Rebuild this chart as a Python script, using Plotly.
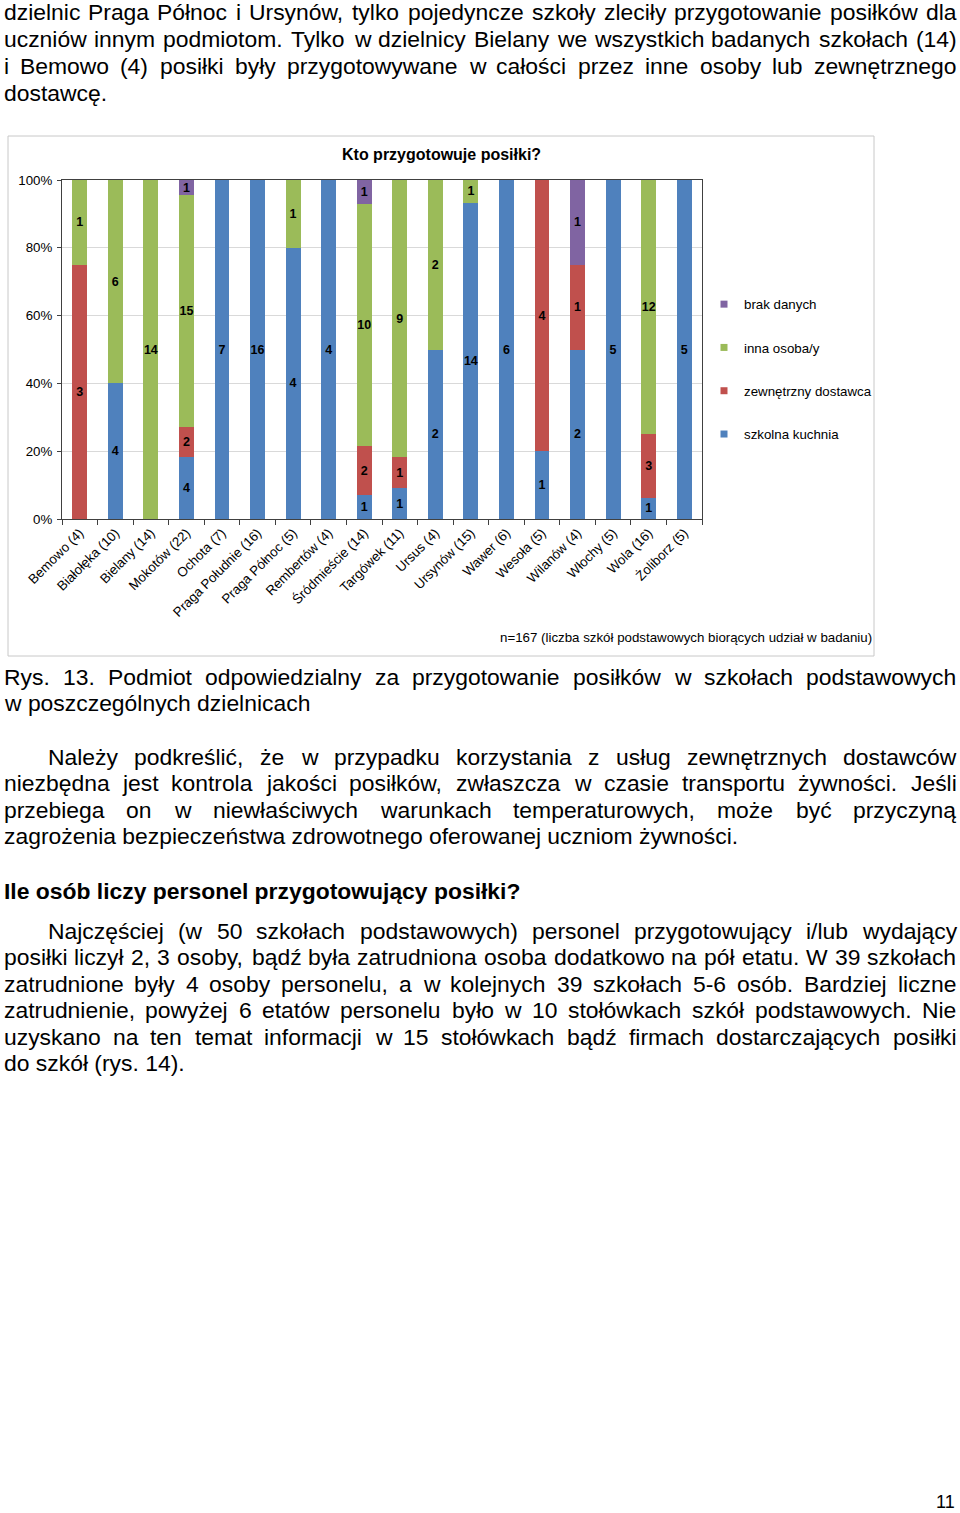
import plotly.graph_objects as go

# ---------------- data ----------------
districts = ["Bemowo (4)", "Białołęka (10)", "Bielany (14)", "Mokotów (22)", "Ochota (7)",
             "Praga Południe (16)", "Praga Północ (5)", "Rembertów (4)", "Śródmieście (14)",
             "Targówek (11)", "Ursus (4)", "Ursynów (15)", "Wawer (6)", "Wesoła (5)",
             "Wilanów (4)", "Włochy (5)", "Wola (16)", "Żoliborz (5)"]
szkolna_kuchnia = [0, 4, 0, 4, 7, 16, 4, 4, 1, 1, 2, 14, 6, 1, 2, 5, 1, 5]
zewnetrzny_dostawca = [3, 0, 0, 2, 0, 0, 0, 0, 2, 1, 0, 0, 0, 4, 1, 0, 3, 0]
inna_osoba = [1, 6, 14, 15, 0, 0, 1, 0, 10, 9, 2, 1, 0, 0, 0, 0, 12, 0]
brak_danych = [0, 0, 0, 1, 0, 0, 0, 0, 1, 0, 0, 0, 0, 0, 1, 0, 0, 0]

series_names = ["szkolna kuchnia", "zewnętrzny dostawca", "inna osoba/y", "brak danych"]
series_values = [szkolna_kuchnia, zewnetrzny_dostawca, inna_osoba, brak_danych]
series_colors = ["#4F81BD", "#C0504D", "#9BBB59", "#8064A2"]

chart_title = "Kto przygotowuje posiłki?"
chart_note = "n=167 (liczba szkół podstawowych biorących udział w badaniu)"

W, H = 960, 1513
FONT = "Liberation Sans, Arial, sans-serif"
CH = 13.3  # chart font size
TXT = 22.9  # page text font size


def px(x):
    return x / W


def py(y):
    return 1 - y / H


fig = go.Figure()

for name, vals, col in zip(series_names, series_values, series_colors):
    fig.add_trace(go.Bar(
        x=districts, y=vals, name=name, marker=dict(color=col, line=dict(width=0)),
        text=[str(v) if v else "" for v in vals],
        textposition="inside", insidetextanchor="middle", textangle=0,
        constraintext="none",
        textfont=dict(family=FONT, size=12.5, color="black", weight="bold"),
        showlegend=False, hoverinfo="skip",
    ))

# legend entries with small square swatches (top-to-bottom: brak danych ... szkolna kuchnia)
for name, col in reversed(list(zip(series_names, series_colors))):
    fig.add_trace(go.Scatter(
        x=[None], y=[None], mode="markers", name=name, legendgroup=name,
        marker=dict(symbol="square", size=7, color=col), showlegend=True,
    ))

annotations = []


def add_text(x, y, text, size, bold=False, anchor="left", color="black"):
    annotations.append(dict(
        x=px(x), y=py(y), xref="paper", yref="paper", text=text, showarrow=False,
        xanchor=anchor, yanchor="middle", borderpad=0, borderwidth=0,
        font=dict(family=FONT, size=size, color=color, weight="bold" if bold else "normal"),
    ))


# chart title and note
add_text(441, 154, chart_title, 16, bold=True, anchor="center")
add_text(872, 637, chart_note, CH, anchor="right")

# ---------------- page text (justified) ----------------
CW = {" ": 278, "!": 278, "(": 333, ")": 333, ",": 278, "-": 333, ".": 278, "/": 278,
      ":": 278, "=": 584, "?": 556, "%": 889}
for d in "0123456789":
    CW[d] = 556
CW.update(dict(A=667, B=667, C=722, D=722, E=667, F=611, G=778, H=722, I=278, J=500, K=667,
               L=556, M=833, N=722, O=778, P=667, Q=778, R=722, S=667, T=611, U=722, V=667,
               W=944, X=667, Y=667, Z=611))
CW.update(dict(a=556, b=556, c=500, d=556, e=556, f=278, g=556, h=556, i=222, j=222, k=500,
               l=222, m=833, n=556, o=556, p=556, q=556, r=333, s=500, t=278, u=556, v=500,
               w=722, x=500, y=500, z=500))
CW.update({"ą": 556, "ć": 500, "ę": 556, "ł": 222, "ń": 556, "ó": 556, "ś": 500, "ź": 500,
           "ż": 500, "Ś": 667, "Ż": 611, "Ł": 556})


def word_w(word, size):
    return sum(CW.get(ch, 556) for ch in word) * size / 1000.0


def justify(line, y, left, right, size):
    words = line.split()
    widths = [word_w(w, size) for w in words]
    gap = (right - left - sum(widths)) / (len(words) - 1)
    x = left
    for w, ww in zip(words, widths):
        add_text(x, y, w, size)
        x += ww + gap


L, R, IND = 3.5, 956.5, 48

paragraphs = [
    (["dzielnic Praga Północ i Ursynów, tylko pojedyncze szkoły zleciły przygotowanie posiłków dla",
      "uczniów innym podmiotom. Tylko w dzielnicy Bielany we wszystkich badanych szkołach (14)",
      "i Bemowo (4) posiłki były przygotowywane w całości przez inne osoby lub zewnętrznego",
      "dostawcę."], [12, 39, 66, 93], L),
    (["Rys. 13. Podmiot odpowiedzialny za przygotowanie posiłków w szkołach podstawowych",
      "w poszczególnych dzielnicach"], [677, 703], L),
    (["Należy podkreślić, że w przypadku korzystania z usług zewnętrznych dostawców",
      "niezbędna jest kontrola jakości posiłków, zwłaszcza w czasie transportu żywności. Jeśli",
      "przebiega on w niewłaściwych warunkach temperaturowych, może być przyczyną",
      "zagrożenia bezpieczeństwa zdrowotnego oferowanej uczniom żywności."],
     [757, 783, 810, 836], IND),
    (["Najczęściej (w 50 szkołach podstawowych) personel przygotowujący i/lub wydający",
      "posiłki liczył 2, 3 osoby, bądź była zatrudniona osoba dodatkowo na pół etatu. W 39 szkołach",
      "zatrudnione były 4 osoby personelu, a w kolejnych 39 szkołach 5-6 osób. Bardziej liczne",
      "zatrudnienie, powyżej 6 etatów personelu było w 10 stołówkach szkół podstawowych. Nie",
      "uzyskano na ten temat informacji w 15 stołówkach bądź firmach dostarczających posiłki",
      "do szkół (rys. 14)."], [931, 957, 984, 1010, 1037, 1063], IND),
]

for lines, ys, first_left in paragraphs:
    for i, (line, y) in enumerate(zip(lines, ys)):
        left = first_left if i == 0 else L
        if i == len(lines) - 1:
            add_text(left, y, line, TXT)
        else:
            justify(line, y, left, R, TXT)

add_text(L, 891, "Ile osób liczy personel przygotowujący posiłki?", TXT, bold=True)
add_text(955, 1502, "11", 18, anchor="right")

fig.update_layout(
    width=W, height=H, margin=dict(l=0, r=0, t=0, b=0, autoexpand=False),
    paper_bgcolor="white", plot_bgcolor="white",
    barmode="stack", barnorm="percent", bargap=0.58,
    font=dict(family=FONT, size=CH, color="black"),
    annotations=annotations,
    showlegend=True,
    legend=dict(x=px(704), y=py(289), xanchor="left", yanchor="top",
                traceorder="grouped", tracegroupgap=23,
                font=dict(family=FONT, size=CH, color="black"),
                bgcolor="rgba(0,0,0,0)", borderwidth=0),
    shapes=[dict(type="rect", xref="paper", yref="paper",
                 x0=px(8), x1=px(874), y0=py(656), y1=py(136),
                 line=dict(color="#C8C8C8", width=1), layer="below")],
    xaxis=dict(domain=[px(62), px(702)], type="category", tickangle=-45, automargin=False,
               ticks="outside", tickson="boundaries", ticklen=5, tickcolor="#404040",
               showline=True, linecolor="#404040", linewidth=1, mirror=True,
               showgrid=False, tickfont=dict(size=CH), fixedrange=True),
    yaxis=dict(domain=[py(519), py(180)], range=[0, 100], dtick=20, ticksuffix="%",
               automargin=False, ticks="outside", ticklen=4, tickcolor="#404040",
               ticklabelstandoff=2,
               showline=True, linecolor="#404040", linewidth=1, mirror=True,
               showgrid=True, gridcolor="#D9D9D9", gridwidth=1, zeroline=False,
               tickfont=dict(size=CH), fixedrange=True),
)

fig.write_html("out.html", config={"displayModeBar": False},
               post_script="document.body.style.margin='0';")
